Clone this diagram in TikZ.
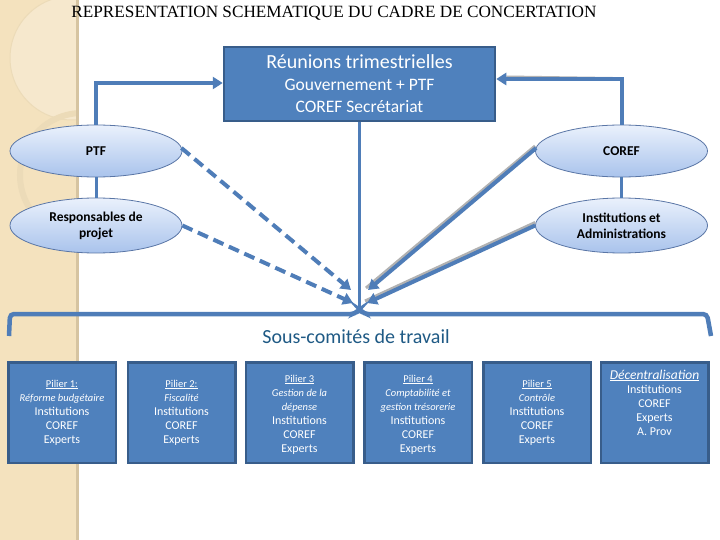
\documentclass[tikz,border=0pt]{standalone}
\usepackage{fontspec}
\setmainfont{Carlito}
\newfontfamily\titlefont{Liberation Serif}
\usetikzlibrary{arrows.meta,shapes.geometric,calc}
\definecolor{boxblue}{HTML}{4F81BD}
\definecolor{boxedge}{HTML}{385D8A}
\definecolor{lineblue}{HTML}{4F7DB8}
\definecolor{strip}{HTML}{F4E2BE}
\definecolor{stripedge}{HTML}{D6C4A1}
\definecolor{stripring}{HTML}{ECDBB8}
\definecolor{striplight}{HTML}{F6E8CD}
\definecolor{elltop}{HTML}{EAF1FC}
\definecolor{ellbot}{HTML}{A9C3EC}
\definecolor{elledge}{HTML}{5A76A6}
\definecolor{sousblue}{HTML}{1F5A85}
\tikzset{
  ell/.style={ellipse, draw=elledge, line width=0.8pt, top color=elltop, bottom color=ellbot,
    minimum width=172pt, inner sep=0pt, align=center, text=black,
    font=\bfseries\fontsize{13.5}{16}\selectfont},
  topbox/.style={rectangle, draw=boxedge, line width=2.5pt, fill=boxblue,
    minimum width=271pt, minimum height=74pt, text=white, align=center,
    font=\fontsize{17.5}{22}\selectfont},
  pbox/.style={rectangle, draw=boxedge, line width=2.5pt, fill=boxblue,
    minimum width=107.5pt, minimum height=100.5pt},
  ptext/.style={text=white, align=center, inner sep=0pt, font=\fontsize{12}{14}\selectfont},
  conn/.style={draw=lineblue, line width=4pt},
  arr/.style={conn, -{Triangle[length=10pt,width=12pt]}},
  dasharr/.style={arr, dash pattern=on 11pt off 6pt},
  shadowline/.style={draw=gray!60, line width=3pt},
}
\newcommand{\smallfnt}{\fontsize{10.5}{12}\selectfont}
\begin{document}
\begin{tikzpicture}[x=1pt,y=-1pt]
\useasboundingbox (0,0) rectangle (720,540);
% background strip
\fill[white] (0,0) rectangle (720,540);
\fill[strip] (0,0) rectangle (76,540);
\begin{scope}
  \clip (0,0) rectangle (76,540);
  \fill[striplight] (72,58) circle (62);
  \draw[stripring, line width=1pt] (72,58) circle (62);
  \draw[stripring, line width=6pt] (82,175) circle (62);
\end{scope}
\fill[stripedge] (76,0) rectangle (79,540);

% title
\node[font=\titlefont\fontsize{17.2}{18}\selectfont] (title) at (334,13)
  {REPRESENTATION SCHEMATIQUE DU CADRE DE CONCERTATION};

% top box
\node[topbox] (reu) at (359.5,84)
  {{\fontsize{20}{22}\selectfont Réunions trimestrielles}\\
   Gouvernement + PTF\\
   COREF Secrétariat};

% ellipses
\node[ell, minimum height=52pt] (ptf) at (96,151) {PTF};
\node[ell, minimum height=55pt] (resp) at (96,225.5) {Responsables de\\projet};
\node[ell, minimum height=52pt] (coref) at (621.5,151) {COREF};
\node[ell, minimum height=55pt] (inst) at (621.5,225.5) {Institutions et\\Administrations};

% links between ellipses
\draw[conn, line width=3pt] (ptf.south) -- (resp.north);
\draw[conn, line width=3pt] (coref.south) -- (inst.north);

% arrows to top box
\draw[arr] (ptf.north) |- ($(reu.west)+(0,-1)$);
\draw[shadowline] ($(coref.north)+(-2,-46)$) -- ($(reu.east)+(10,-7)$);
\draw[arr] (coref.north) |- ($(reu.east)+(0,-5)$);

% central line and bracket
\coordinate (peak) at (359.5,309);
\draw[conn, line width=3pt] (reu.south) -- (peak);
\draw[conn, line width=4.5pt, rounded corners=4pt, line cap=butt]
  (9,336) -- (10,314) -- (355,314) -- (peak) -- (364,314) -- (707,314) -- (711,336);

% converging arrows
\coordinate (tipA) at (351,290);
\coordinate (tipB) at (353,303);
\coordinate (tipC) at (368,290);
\coordinate (tipD) at (367,303);
\draw[dasharr] ($(ptf.east)+(-1,-3)$) -- (tipA);
\draw[dasharr] (resp.east) -- (tipB);
\draw[shadowline] ($(coref.west)+(0,-5)$) -- ($(tipC)+(-2,-2)$);
\draw[shadowline] ($(inst.west)+(0,-3)$) -- ($(tipD)+(-2,-2)$);
\draw[arr] ($(coref.west)+(1,-3)$) -- (tipC);
\draw[arr] (inst.west) -- (tipD);

% sous-comites
\node[font=\fontsize{20}{22}\selectfont, text=sousblue] (sous) at (356,337) {Sous-comités de travail};

% pillar boxes
\node[pbox] (p1) at (62,412.5) {};
\node[pbox] (p2) at (181.5,412.5) {};
\node[pbox] (p3) at (299.5,412.5) {};
\node[pbox] (p4) at (418,412.5) {};
\node[pbox] (p5) at (537,412.5) {};
\node[pbox] (p6) at (654.5,412.5) {};

\node[ptext] (t1) at (p1) {{\smallfnt\underline{Pilier 1:}}\\{\smallfnt\itshape Réforme budgétaire}\\Institutions\\COREF\\Experts};
\node[ptext] (t2) at (p2) {{\smallfnt\underline{Pilier 2:}}\\{\smallfnt\itshape Fiscalité}\\Institutions\\COREF\\Experts};
\node[ptext] (t3) at ($(p3)+(0,2)$) {{\smallfnt\underline{Pilier 3}}\\{\smallfnt\itshape Gestion de la}\\{\smallfnt\itshape dépense}\\Institutions\\COREF\\Experts};
\node[ptext] (t4) at ($(p4)+(0,2)$) {{\smallfnt\underline{Pilier 4}}\\{\smallfnt\itshape Comptabilité et}\\{\smallfnt\itshape gestion trésorerie}\\Institutions\\COREF\\Experts};
\node[ptext] (t5) at (p5) {{\smallfnt\underline{Pilier 5}}\\{\smallfnt\itshape Contrôle}\\Institutions\\COREF\\Experts};
\node[ptext] (t6) at ($(p6)+(0,-10)$) {{\fontsize{13.5}{15}\selectfont\itshape\underline{Décentralisation}}\\Institutions\\COREF\\Experts\\A. Prov};
\end{tikzpicture}
\end{document}
